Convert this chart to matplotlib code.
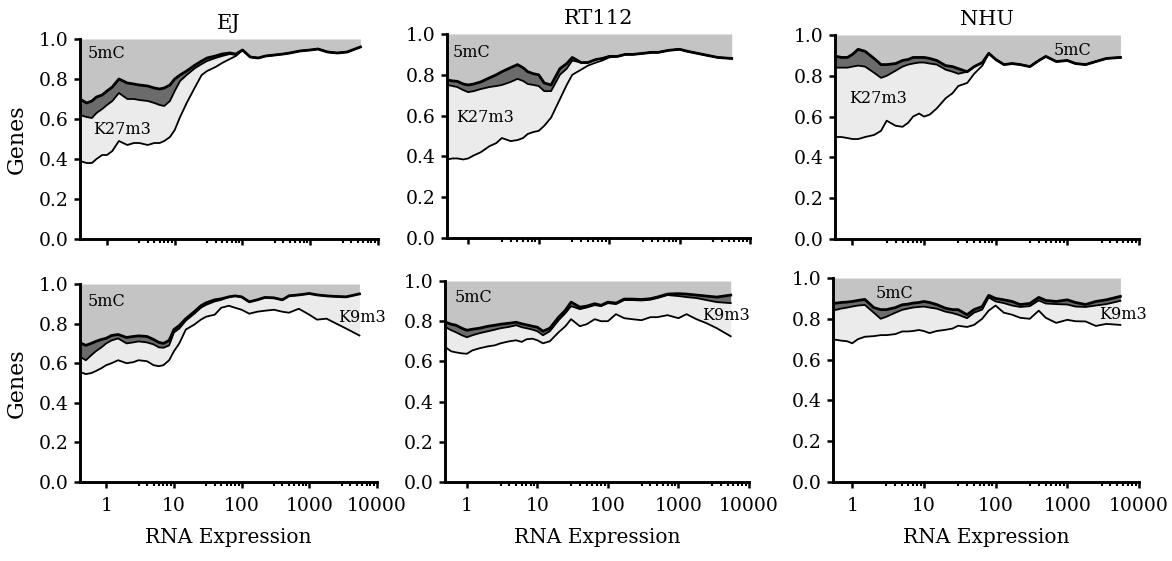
import matplotlib
matplotlib.use("Agg")
import matplotlib.pyplot as plt

plt.rcParams["font.family"] = ["DejaVu Serif"]

#RNA expression sample points, shared by all panels
expression = [0.4, 0.5, 0.6, 0.7, 0.85, 1, 1.2, 1.5, 2, 2.5, 3, 4, 5, 6, 7, 8.5, 10, 12, 15, 20,
              25, 30, 40, 50, 65, 80, 100, 130, 170, 220, 300, 400, 500, 700, 1000, 1300, 1800, 2500, 3500, 5500]

#Top row (K27m3). upper = 5mC boundary, middle = overlap boundary, lower = mark boundary
ej_k27_upper = [0.70, 0.68, 0.69, 0.71, 0.72, 0.74, 0.76, 0.80, 0.78, 0.775, 0.77, 0.765, 0.755, 0.75, 0.755, 0.77, 0.80, 0.82, 0.84, 0.87,
                0.89, 0.905, 0.915, 0.925, 0.93, 0.925, 0.945, 0.91, 0.905, 0.915, 0.92, 0.925, 0.93, 0.94, 0.945, 0.95, 0.935, 0.93, 0.935, 0.96]
ej_k27_middle = [0.62, 0.61, 0.605, 0.63, 0.65, 0.67, 0.69, 0.73, 0.70, 0.70, 0.695, 0.69, 0.68, 0.67, 0.665, 0.69, 0.74, 0.79, 0.82, 0.855,
                 0.875, 0.89, 0.905, 0.915, 0.925, 0.92, 0.945, 0.91, 0.905, 0.915, 0.92, 0.925, 0.93, 0.94, 0.945, 0.95, 0.935, 0.93, 0.935, 0.96]
ej_k27_lower = [0.39, 0.38, 0.38, 0.40, 0.42, 0.42, 0.44, 0.49, 0.47, 0.48, 0.48, 0.47, 0.48, 0.48, 0.49, 0.51, 0.545, 0.61, 0.68, 0.76,
                0.82, 0.84, 0.86, 0.88, 0.90, 0.915, 0.945, 0.91, 0.905, 0.915, 0.92, 0.925, 0.93, 0.94, 0.945, 0.95, 0.935, 0.93, 0.935, 0.96]

rt_k27_upper = [0.775, 0.775, 0.77, 0.768, 0.755, 0.75, 0.755, 0.765, 0.785, 0.80, 0.815, 0.835, 0.85, 0.835, 0.815, 0.805, 0.80, 0.76, 0.75, 0.83,
                0.855, 0.885, 0.86, 0.86, 0.875, 0.88, 0.89, 0.89, 0.90, 0.90, 0.905, 0.91, 0.91, 0.92, 0.925, 0.915, 0.905, 0.895, 0.885, 0.88]
rt_k27_middle = [0.75, 0.75, 0.745, 0.74, 0.725, 0.715, 0.72, 0.73, 0.74, 0.745, 0.75, 0.765, 0.78, 0.77, 0.755, 0.75, 0.745, 0.72, 0.72, 0.80,
                 0.83, 0.87, 0.86, 0.86, 0.875, 0.88, 0.89, 0.89, 0.90, 0.90, 0.905, 0.91, 0.91, 0.92, 0.925, 0.915, 0.905, 0.895, 0.885, 0.88]
rt_k27_lower = [0.385, 0.385, 0.39, 0.39, 0.385, 0.39, 0.405, 0.42, 0.45, 0.465, 0.49, 0.475, 0.48, 0.49, 0.51, 0.52, 0.525, 0.55, 0.59, 0.68,
                0.75, 0.80, 0.825, 0.845, 0.86, 0.87, 0.885, 0.89, 0.90, 0.90, 0.905, 0.91, 0.91, 0.92, 0.925, 0.915, 0.905, 0.895, 0.885, 0.88]

nhu_k27_upper = [0.895, 0.895, 0.895, 0.89, 0.89, 0.905, 0.93, 0.92, 0.885, 0.855, 0.855, 0.86, 0.875, 0.88, 0.89, 0.89, 0.89, 0.885, 0.875, 0.85,
                 0.845, 0.835, 0.82, 0.845, 0.865, 0.91, 0.88, 0.855, 0.86, 0.855, 0.845, 0.875, 0.895, 0.87, 0.875, 0.86, 0.855, 0.87, 0.885, 0.89]
nhu_k27_middle = [0.84, 0.84, 0.84, 0.84, 0.84, 0.845, 0.85, 0.845, 0.815, 0.79, 0.80, 0.825, 0.845, 0.855, 0.86, 0.865, 0.865, 0.86, 0.855, 0.83,
                  0.82, 0.81, 0.82, 0.845, 0.865, 0.91, 0.88, 0.855, 0.86, 0.855, 0.845, 0.875, 0.895, 0.87, 0.875, 0.86, 0.855, 0.87, 0.885, 0.89]
nhu_k27_lower = [0.50, 0.50, 0.50, 0.50, 0.495, 0.49, 0.49, 0.50, 0.51, 0.53, 0.58, 0.555, 0.55, 0.57, 0.60, 0.615, 0.60, 0.61, 0.64, 0.69,
                 0.715, 0.75, 0.765, 0.81, 0.85, 0.91, 0.88, 0.855, 0.86, 0.855, 0.845, 0.875, 0.895, 0.87, 0.875, 0.86, 0.855, 0.87, 0.885, 0.89]

#Bottom row (K9m3)
ej_k9_upper = [0.705, 0.69, 0.70, 0.71, 0.72, 0.726, 0.74, 0.745, 0.73, 0.735, 0.738, 0.735, 0.72, 0.705, 0.70, 0.715, 0.77, 0.79, 0.825, 0.86,
               0.89, 0.905, 0.92, 0.925, 0.935, 0.94, 0.935, 0.91, 0.92, 0.932, 0.93, 0.92, 0.94, 0.945, 0.952, 0.945, 0.94, 0.937, 0.935, 0.95]
ej_k9_middle = [0.635, 0.615, 0.64, 0.66, 0.68, 0.70, 0.715, 0.725, 0.70, 0.705, 0.71, 0.705, 0.695, 0.68, 0.678, 0.69, 0.755, 0.775, 0.815, 0.85,
                0.88, 0.895, 0.912, 0.92, 0.935, 0.94, 0.935, 0.91, 0.92, 0.932, 0.93, 0.92, 0.94, 0.945, 0.952, 0.945, 0.94, 0.937, 0.935, 0.95]
ej_k9_lower = [0.557, 0.545, 0.55, 0.56, 0.575, 0.59, 0.60, 0.615, 0.60, 0.605, 0.615, 0.61, 0.59, 0.585, 0.59, 0.615, 0.66, 0.70, 0.77, 0.795,
               0.82, 0.835, 0.845, 0.88, 0.89, 0.88, 0.87, 0.85, 0.86, 0.865, 0.87, 0.86, 0.855, 0.875, 0.845, 0.82, 0.825, 0.80, 0.775, 0.74]

rt_k9_upper = [0.80, 0.795, 0.785, 0.78, 0.765, 0.755, 0.76, 0.765, 0.775, 0.78, 0.785, 0.79, 0.795, 0.787, 0.782, 0.775, 0.77, 0.75, 0.765, 0.82,
               0.855, 0.895, 0.87, 0.875, 0.887, 0.879, 0.895, 0.89, 0.91, 0.91, 0.908, 0.912, 0.92, 0.935, 0.937, 0.935, 0.93, 0.925, 0.92, 0.93]
rt_k9_middle = [0.77, 0.77, 0.755, 0.745, 0.73, 0.72, 0.73, 0.74, 0.75, 0.758, 0.765, 0.772, 0.78, 0.77, 0.765, 0.758, 0.75, 0.73, 0.75, 0.805,
                0.84, 0.875, 0.86, 0.868, 0.88, 0.875, 0.89, 0.885, 0.905, 0.905, 0.903, 0.907, 0.915, 0.93, 0.925, 0.92, 0.915, 0.905, 0.895, 0.89]
rt_k9_lower = [0.67, 0.67, 0.65, 0.645, 0.64, 0.638, 0.655, 0.665, 0.675, 0.68, 0.69, 0.70, 0.705, 0.697, 0.71, 0.713, 0.705, 0.69, 0.70, 0.745,
               0.775, 0.81, 0.775, 0.785, 0.81, 0.80, 0.80, 0.835, 0.815, 0.81, 0.805, 0.82, 0.82, 0.83, 0.815, 0.835, 0.81, 0.79, 0.765, 0.725]

nhu_k9_upper = [0.877, 0.877, 0.877, 0.88, 0.882, 0.885, 0.89, 0.895, 0.855, 0.845, 0.845, 0.855, 0.869, 0.872, 0.877, 0.88, 0.885, 0.88, 0.87, 0.852,
                0.845, 0.845, 0.82, 0.845, 0.86, 0.915, 0.90, 0.893, 0.885, 0.87, 0.875, 0.905, 0.89, 0.885, 0.893, 0.88, 0.87, 0.885, 0.893, 0.91]
nhu_k9_middle = [0.844, 0.844, 0.844, 0.85, 0.855, 0.86, 0.865, 0.868, 0.83, 0.80, 0.81, 0.83, 0.844, 0.85, 0.855, 0.858, 0.86, 0.855, 0.85, 0.835,
                 0.828, 0.82, 0.803, 0.83, 0.845, 0.905, 0.885, 0.877, 0.865, 0.858, 0.862, 0.89, 0.875, 0.872, 0.87, 0.86, 0.858, 0.865, 0.872, 0.888]
nhu_k9_lower = [0.697, 0.697, 0.697, 0.693, 0.69, 0.68, 0.70, 0.712, 0.715, 0.72, 0.72, 0.725, 0.738, 0.738, 0.74, 0.745, 0.74, 0.73, 0.74, 0.746,
                0.752, 0.766, 0.76, 0.77, 0.80, 0.84, 0.865, 0.83, 0.82, 0.805, 0.80, 0.84, 0.805, 0.78, 0.795, 0.788, 0.787, 0.765, 0.775, 0.77]

cell_lines = ["EJ", "RT112", "NHU"]
x_major = [1, 10, 100, 1000, 10000]
x_major_labels = ["1", "10", "100", "1000", "10000"]
y_major = [0.0, 0.2, 0.4, 0.6, 0.8, 1.0]

color_5mc = "#c4c4c4"
color_overlap = "#6b6b6b"
color_mark = "#ebebeb"


def draw_panel(ax, upper, middle, lower, x_left):
    ax.fill_between(expression, upper, 1.0, color=color_5mc, linewidth=0)
    ax.fill_between(expression, middle, upper, color=color_overlap, linewidth=0)
    ax.fill_between(expression, lower, middle, color=color_mark, linewidth=0)
    ax.plot(expression, lower, color="black", linewidth=1.3)
    ax.plot(expression, middle, color="black", linewidth=1.3)
    ax.plot(expression, upper, color="black", linewidth=2.0)

    ax.set_xscale("log")
    ax.set_xlim(x_left, 10000)
    ax.set_ylim(0, 1.0)

    ax.spines["top"].set_visible(False)
    ax.spines["right"].set_visible(False)
    ax.spines["left"].set_linewidth(2.1)
    ax.spines["bottom"].set_linewidth(2.1)

    ax.set_xticks(x_major)
    ax.set_xticks([m * 10 ** k for k in range(0, 4) for m in range(3, 10)], minor=True)
    ax.set_yticks(y_major)
    ax.set_yticklabels([f"{v:.1f}" for v in y_major])
    ax.tick_params(axis="both", which="major", direction="out", length=4.5, width=1.8, labelsize=13.5)
    ax.tick_params(axis="x", which="minor", direction="out", length=3.0, width=1.5)
    ax.tick_params(axis="x", which="major", pad=6)
    ax.tick_params(axis="y", which="minor", left=False)


fig = plt.figure(figsize=(11.72, 5.61), dpi=100)

#Axes positions measured in pixels from reference: left, top, right, bottom
pixel_boxes = [
    [(80, 39, 378, 239), (447, 34, 750, 238), (835, 35, 1139, 239)],
    [(80, 284, 377, 482), (445, 281, 749, 482), (833, 278, 1139, 482)],
]
x_lefts = [[0.4, 0.5, 0.57], [0.41, 0.49, 0.54]]

row_data = [
    [(ej_k27_upper, ej_k27_middle, ej_k27_lower),
     (rt_k27_upper, rt_k27_middle, rt_k27_lower),
     (nhu_k27_upper, nhu_k27_middle, nhu_k27_lower)],
    [(ej_k9_upper, ej_k9_middle, ej_k9_lower),
     (rt_k9_upper, rt_k9_middle, rt_k9_lower),
     (nhu_k9_upper, nhu_k9_middle, nhu_k9_lower)],
]

#Label positions in axes fraction: 5mC, then mark label
label_5mc_pos = [[(0.025, 0.93), (0.02, 0.91), (0.72, 0.925)],
                 [(0.025, 0.91), (0.033, 0.92), (0.14, 0.925)]]
mark_pos = [[(0.043, 0.545), (0.03, 0.59), (0.045, 0.69)],
            [(0.87, 0.83), (0.845, 0.83), (0.87, 0.82)]]
mark_names = ["K27m3", "K9m3"]

W, H = 1172, 561
for row in range(2):
    for col in range(3):
        left, top, right, bottom = pixel_boxes[row][col]
        ax = fig.add_axes([left / W, 1 - bottom / H, (right - left) / W, (bottom - top) / H])
        upper, middle, lower = row_data[row][col]
        draw_panel(ax, upper, middle, lower, x_lefts[row][col])

        lx, ly = label_5mc_pos[row][col]
        ax.text(lx, ly, "5mC", transform=ax.transAxes, fontsize=11.5, ha="left", va="center")
        mx, my = mark_pos[row][col]
        ax.text(mx, my, mark_names[row], transform=ax.transAxes, fontsize=11.5, ha="left", va="center")

        if row == 0:
            ax.set_title(cell_lines[col], fontsize=15, pad=7)
            ax.set_xticklabels([])
        else:
            ax.set_xticklabels(x_major_labels)
            ax.set_xlabel("RNA Expression", fontsize=14.5, labelpad=10)
        if col == 0:
            ax.set_ylabel("Genes", fontsize=16, labelpad=8)

fig.savefig("out.png", dpi=100)
plt.close(fig)
